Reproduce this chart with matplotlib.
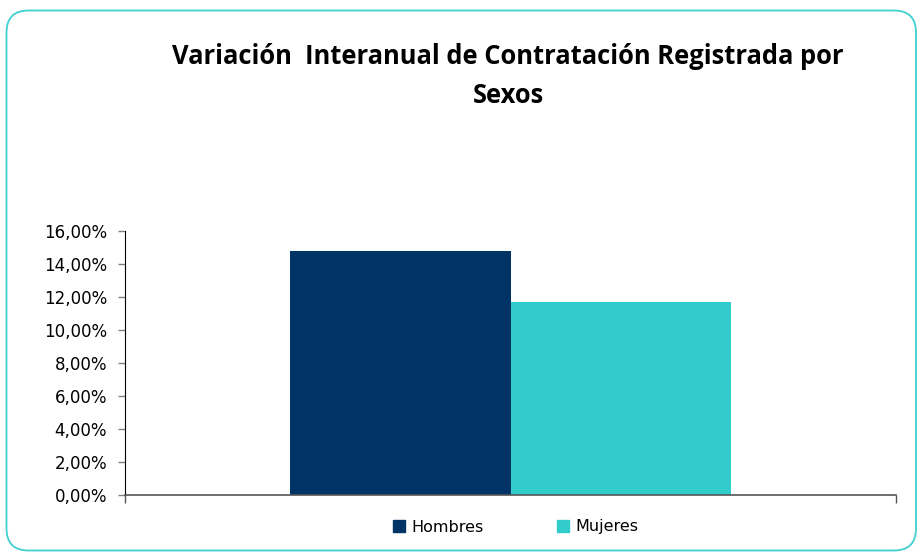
import matplotlib.pyplot as plt
from matplotlib.patches import FancyBboxPatch, Patch
from matplotlib.transforms import IdentityTransform

# Data
series = ["Hombres", "Mujeres"]
values = [14.79, 11.69]  # %
colors = ["#003366", "#33CCCC"]
yticks = [0, 2, 4, 6, 8, 10, 12, 14, 16]
title = "Variación  Interanual de Contratación Registrada por\nSexos"

W, H = 918, 554
fig = plt.figure(figsize=(W / 100, H / 100), dpi=100)

# rounded chart border in pixel units
border = FancyBboxPatch((6.5, 3.5), W - 2 - 6.5, H - 10.5 - 3.5,
                        boxstyle="round,pad=0,rounding_size=22",
                        transform=IdentityTransform(), fill=False,
                        edgecolor="#40D0D0", linewidth=1.3)
fig.patches.append(border)

ax = fig.add_axes([125 / W, (H - 494.5) / H, (896 - 125) / W, (494.5 - 231) / H])

width = 0.286
offsets = [-width / 2, width / 2]
for name, v, c, off in zip(series, values, colors, offsets):
    ax.bar(off, v, width=width, color=c, label=name)

ax.set_xlim(-0.5, 0.5)
ax.set_ylim(0, 16)
ax.set_yticks(yticks)
ax.set_yticklabels([f"{t:.2f}%".replace(".", ",") for t in yticks],
                   fontsize=12, family="DejaVu Sans")
ax.set_xticks([-0.5, 0.5])
ax.set_xticklabels([])
ax.tick_params(axis="y", length=5, width=1, color="#808080", pad=8)
ax.tick_params(axis="x", length=6, width=1, color="#555555")
for s in ["top", "right"]:
    ax.spines[s].set_visible(False)
ax.spines["left"].set_color("#000000")
ax.spines["bottom"].set_color("#555555")
ax.spines["bottom"].set_linewidth(1.2)

fig.text(508 / W, 1 - 76 / H, title, ha="center", va="center",
         fontsize=18.4, fontweight="bold", family="Open Sans", linespacing=1.6)

handles = [Patch(color=c, label=n) for n, c in zip(series, colors)]
fig.legend(handles=handles, loc="center", bbox_to_anchor=(516 / W, 1 - 527 / H),
           ncol=2, frameon=False, handlelength=0.75, handleheight=0.75,
           columnspacing=4.6, handletextpad=0.4,
           prop={"family": "DejaVu Sans", "size": 11.5})

fig.savefig("out.png", dpi=100)
